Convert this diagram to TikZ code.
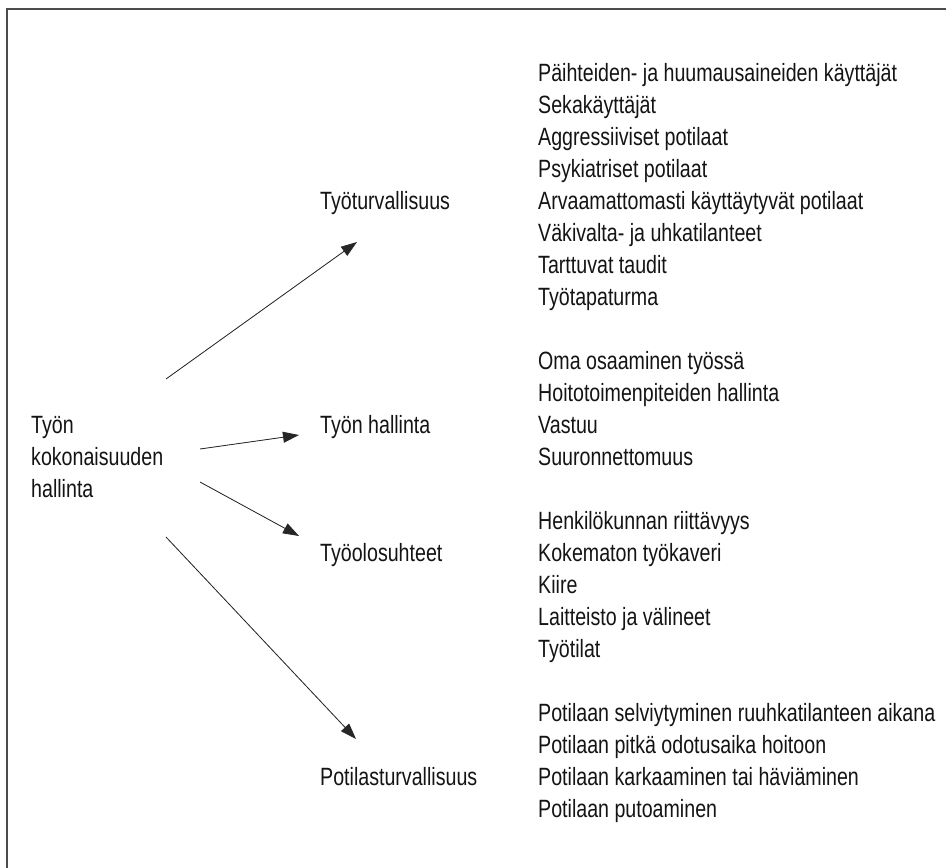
\documentclass[tikz,border=0pt]{standalone}
\usepackage{fontspec}
\setmainfont{Liberation Sans}[FakeStretch=0.785]
\usetikzlibrary{arrows.meta}
\begin{document}
\begin{tikzpicture}[x=1pt,y=-1pt,
  txt/.style={anchor=base west, inner sep=0pt, font=\fontsize{25pt}{32pt}\selectfont, text=black!92},
  arr/.style={-{Triangle[length=16pt,width=11pt]}, line width=0.8pt, draw=black!85, fill=black!85}]
\useasboundingbox (0,0) rectangle (946,868);
\draw[line width=1.3pt, black!70] (7,868) -- (7,9) -- (946,9);
% left column
\node[txt] (l1) at (31,433.5) {Työn};
\node[txt] (l2) at (31,465.5) {kokonaisuuden};
\node[txt] (l3) at (31,497.5) {hallinta};
% middle column
\node[txt] (m1) at (320,209.5) {Työturvallisuus};
\node[txt] (m2) at (320,433.5) {Työn hallinta};
\node[txt] (m3) at (320,561.5) {Työolosuhteet};
\node[txt] (m4) at (320,785.5) {Potilasturvallisuus};
% right column
\foreach \t [count=\i from 0] in {Päihteiden- ja huumausaineiden käyttäjät, Sekakäyttäjät, Aggressiiviset potilaat, Psykiatriset potilaat, Arvaamattomasti käyttäytyvät potilaat, Väkivalta- ja uhkatilanteet, Tarttuvat taudit, Työtapaturma}
  \node[txt] (ga\i) at (538,{81.5+32*\i}) {\t};
\foreach \t [count=\i from 0] in {Oma osaaminen työssä, Hoitotoimenpiteiden hallinta, Vastuu, Suuronnettomuus}
  \node[txt] (gb\i) at (538,{81.5+32*(\i+9)}) {\t};
\foreach \t [count=\i from 0] in {Henkilökunnan riittävyys, Kokematon työkaveri, Kiire, Laitteisto ja välineet, Työtilat}
  \node[txt] (gc\i) at (538,{81.5+32*(\i+14)}) {\t};
\foreach \t [count=\i from 0] in {Potilaan selviytyminen ruuhkatilanteen aikana, Potilaan pitkä odotusaika hoitoon, Potilaan karkaaminen tai häviäminen, Potilaan putoaminen}
  \node[txt] (gd\i) at (538,{81.5+32*(\i+20)}) {\t};
% arrow ends
\coordinate (s1) at (166,379);
\coordinate (e1) at (357,242);
\coordinate (s2) at (200,449);
\coordinate (e2) at (299,435);
\coordinate (s3) at (200,482);
\coordinate (e3) at (299,536);
\coordinate (s4) at (166,537);
\coordinate (e4) at (356,739);
\draw[arr] (s1) -- (e1);
\draw[arr] (s2) -- (e2);
\draw[arr] (s3) -- (e3);
\draw[arr] (s4) -- (e4);
\end{tikzpicture}
\end{document}
